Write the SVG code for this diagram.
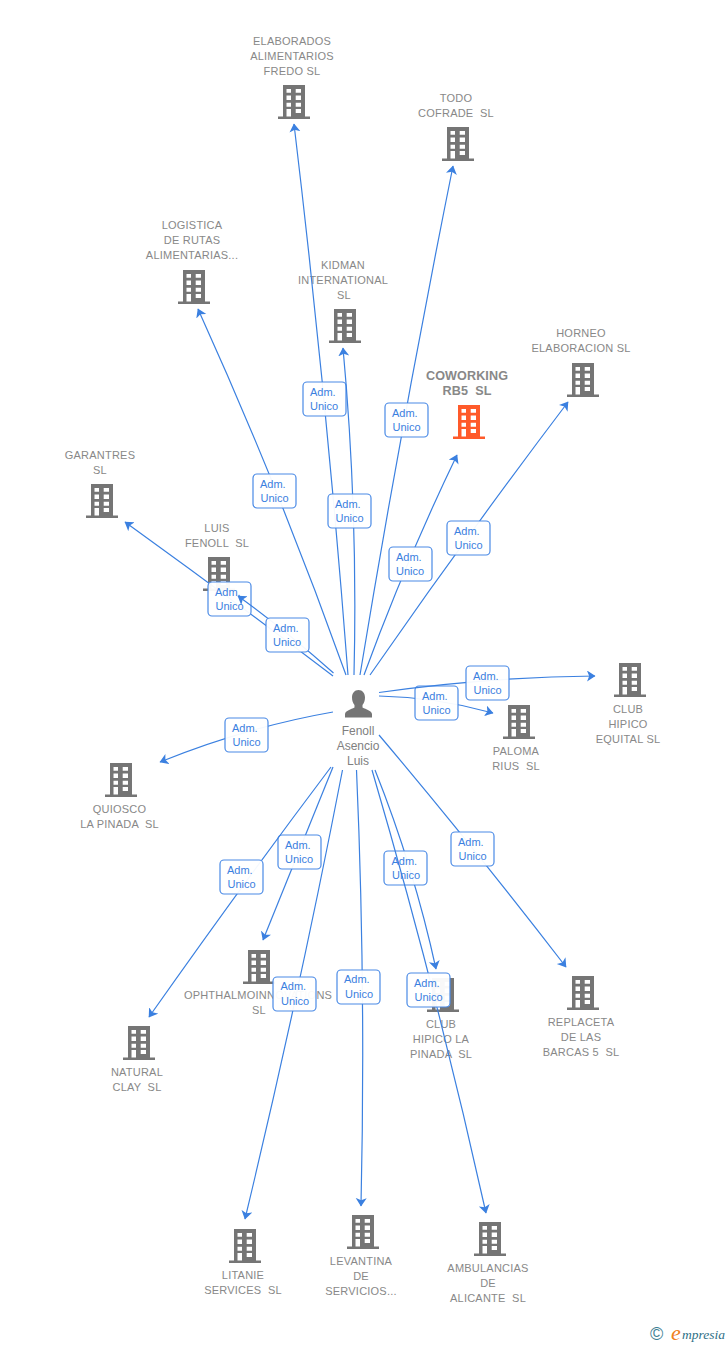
<svg xmlns="http://www.w3.org/2000/svg" width="728" height="1345" viewBox="0 0 728 1345">
<style>
.n{font:11px "Liberation Sans",Arial,sans-serif;letter-spacing:.22px;fill:#888;text-anchor:middle;white-space:pre}
.m{font:bold 12.6px "Liberation Sans",Arial,sans-serif;letter-spacing:.1px;fill:#888;text-anchor:middle;white-space:pre}
.p{font:12px "Liberation Sans",Arial,sans-serif;fill:#808080;text-anchor:middle}
.e{fill:none;stroke:#3b80e0;stroke-width:1.2;marker-end:url(#a)}
.b{fill:#fff;fill-opacity:.95;stroke:#4a8ae6;stroke-width:1.2}
.l{font:11px "Liberation Sans",Arial,sans-serif;fill:#3b80e0}
</style>
<defs>
<marker id="a" markerUnits="userSpaceOnUse" markerWidth="12" markerHeight="12" refX="8" refY="5.500" orient="auto"><path d="M0 0L8.500 5.500L0 11L2.200 5.500Z" fill="#3b80e0"/></marker>
<g id="bld"><path fill-rule="evenodd" d="M5 0H27V31.5H32V34H0V31.5H5ZM8.500 4V7.800H13V4ZM17.700 4V7.800H23V4ZM8.500 10.500V15H13V10.500ZM17.700 10.500V15H23V10.500ZM8.500 17.700V21.700H13V17.700ZM17.700 17.700V21.700H23V17.700ZM8.500 24V31.500H13V24ZM17.700 24V28H23V24Z"/></g>
</defs>
<rect width="728" height="1345" fill="#fff"/>
<g id="node-elaborados" fill="#757575"><text class="n" x="292" y="45">ELABORADOS</text><text class="n" x="292" y="60">ALIMENTARIOS</text><text class="n" x="292" y="75">FREDO SL</text><use href="#bld" x="278" y="85"/></g>
<g id="node-todo" fill="#757575"><text class="n" x="456" y="102">TODO</text><text class="n" x="456" y="117">COFRADE  SL</text><use href="#bld" x="442" y="127"/></g>
<g id="node-logistica" fill="#757575"><text class="n" x="192" y="229">LOGISTICA</text><text class="n" x="192" y="244">DE RUTAS</text><text class="n" x="192" y="259">ALIMENTARIAS...</text><use href="#bld" x="178" y="270"/></g>
<g id="node-kidman" fill="#757575"><text class="n" x="343" y="269">KIDMAN</text><text class="n" x="343" y="284">INTERNATIONAL</text><text class="n" x="344" y="299">SL</text><use href="#bld" x="329" y="309"/></g>
<g id="node-coworking" fill="#ff5a2a"><text class="m" x="467" y="380">COWORKING</text><text class="m" x="467" y="395">RB5  SL</text><use href="#bld" x="453" y="405"/></g>
<g id="node-horneo" fill="#757575"><text class="n" x="581" y="337">HORNEO</text><text class="n" x="581" y="352">ELABORACION SL</text><use href="#bld" x="567" y="363"/></g>
<g id="node-garantres" fill="#757575"><text class="n" x="100" y="459">GARANTRES</text><text class="n" x="100" y="474">SL</text><use href="#bld" x="86" y="484"/></g>
<g id="node-luis" fill="#757575"><text class="n" x="217" y="532">LUIS</text><text class="n" x="217" y="547">FENOLL  SL</text><use href="#bld" x="203" y="557"/></g>
<g id="node-equital" fill="#757575"><use href="#bld" x="614" y="663"/><text class="n" x="628" y="713">CLUB</text><text class="n" x="628" y="728">HIPICO</text><text class="n" x="628" y="743">EQUITAL SL</text></g>
<g id="node-paloma" fill="#757575"><use href="#bld" x="503" y="705"/><text class="n" x="516" y="755">PALOMA</text><text class="n" x="516" y="770">RIUS  SL</text></g>
<g id="node-quiosco" fill="#757575"><use href="#bld" x="105" y="763"/><text class="n" x="119.500" y="813">QUIOSCO</text><text class="n" x="119.500" y="828">LA PINADA  SL</text></g>
<g id="node-ophthalmoinn" fill="#757575"><use href="#bld" x="243" y="950"/><text class="n" x="258" y="999">OPHTHALMOINNOVATIONS</text><text class="n" x="259" y="1014">SL</text></g>
<g id="node-natural" fill="#757575"><use href="#bld" x="123" y="1026"/><text class="n" x="137" y="1076">NATURAL</text><text class="n" x="137" y="1091">CLAY  SL</text></g>
<g id="node-pinada" fill="#757575"><use href="#bld" x="427" y="978"/><text class="n" x="441" y="1028">CLUB</text><text class="n" x="441" y="1043">HIPICO LA</text><text class="n" x="441" y="1058">PINADA  SL</text></g>
<g id="node-replaceta" fill="#757575"><use href="#bld" x="567" y="976"/><text class="n" x="581" y="1026">REPLACETA</text><text class="n" x="581" y="1041">DE LAS</text><text class="n" x="581" y="1056">BARCAS 5  SL</text></g>
<g id="node-litanie" fill="#757575"><use href="#bld" x="229" y="1229"/><text class="n" x="243" y="1279">LITANIE</text><text class="n" x="243" y="1294">SERVICES  SL</text></g>
<g id="node-levantina" fill="#757575"><use href="#bld" x="347" y="1215"/><text class="n" x="361" y="1265">LEVANTINA</text><text class="n" x="361" y="1280">DE</text><text class="n" x="361" y="1295">SERVICIOS...</text></g>
<g id="node-ambulancias" fill="#757575"><use href="#bld" x="474" y="1222"/><text class="n" x="488" y="1272">AMBULANCIAS</text><text class="n" x="488" y="1287">DE</text><text class="n" x="488" y="1302">ALICANTE  SL</text></g>
<g id="node-person"><path fill="#757575" d="M358.500 690c4 0 6.500 3.300 6.500 7.500 0 3-1 5.500-2.500 7.500v2.500c3.500 2 9 3 9.500 6.500v3.500H345v-3.500c.5-3.500 6-4.500 9.500-6.500v-2.500c-1.500-2-2.500-4.500-2.500-7.500 0-4.200 2.500-7.500 6.500-7.500Z"/><text class="p" x="358" y="735">Fenoll</text><text class="p" x="358" y="750">Asencio</text><text class="p" x="358" y="765">Luis</text></g>
<g id="connectors">
<path class="e" d="M348 675Q327 400 294 124"/><rect class="b" x="303" y="382" width="43" height="34" rx="4"/><text class="l" x="310" y="395.500">Adm.</text><text class="l" x="310" y="410">Unico</text>
<path class="e" d="M354 675Q358 510 343 348"/><rect class="b" x="328" y="494" width="43" height="34" rx="4"/><text class="l" x="335" y="507.500">Adm.</text><text class="l" x="335.500" y="522">Unico</text>
<path class="e" d="M360 675Q402 420 453 166"/><rect class="b" x="385" y="403" width="43" height="34" rx="4"/><text class="l" x="392" y="416.500">Adm.</text><text class="l" x="392.500" y="431">Unico</text>
<path class="e" d="M346 675Q280 490 198 309"/><rect class="b" x="253" y="474" width="43" height="34" rx="4"/><text class="l" x="260" y="487.500">Adm.</text><text class="l" x="260.500" y="502">Unico</text>
<path class="e" d="M364 675Q405 563 457 455"/><rect class="b" x="389" y="547" width="43" height="34" rx="4"/><text class="l" x="396" y="560.500">Adm.</text><text class="l" x="396" y="575">Unico</text>
<path class="e" d="M370 675Q465 538 568 402"/><rect class="b" x="447" y="521" width="43" height="34" rx="4"/><text class="l" x="454" y="534.500">Adm.</text><text class="l" x="454.500" y="549">Unico</text>
<path class="e" d="M333 676Q229 597 125 522"/><rect class="b" x="208" y="582" width="43" height="34" rx="4"/><text class="l" x="215" y="595.500">Adm.</text><text class="l" x="215.500" y="610">Unico</text>
<path class="e" d="M333.500 673Q285 630 238 596"/><rect class="b" x="266" y="618" width="43" height="34" rx="4"/><text class="l" x="273" y="631.500">Adm.</text><text class="l" x="273" y="646">Unico</text>
<path class="e" d="M379 696Q436 697 493 713"/><rect class="b" x="415" y="686" width="43" height="34" rx="4"/><text class="l" x="422" y="699.500">Adm.</text><text class="l" x="422.500" y="714">Unico</text>
<path class="e" d="M379 692.500Q487 677 595 676"/><rect class="b" x="466" y="666" width="43" height="34" rx="4"/><text class="l" x="473" y="679.500">Adm.</text><text class="l" x="473.500" y="694">Unico</text>
<path class="e" d="M333 712Q247 727 160 762"/><rect class="b" x="225" y="718" width="43" height="34" rx="4"/><text class="l" x="232" y="731.500">Adm.</text><text class="l" x="232.500" y="746">Unico</text>
<path class="e" d="M333 767Q299 852 263 940"/><rect class="b" x="278" y="835" width="43" height="34" rx="4"/><text class="l" x="285" y="848.500">Adm.</text><text class="l" x="285" y="863">Unico</text>
<path class="e" d="M331 767Q242 885 149 1017"/><rect class="b" x="220" y="860" width="43" height="34" rx="4"/><text class="l" x="227" y="873.500">Adm.</text><text class="l" x="227.500" y="888">Unico</text>
<path class="e" d="M342.500 770Q300 990 245 1219"/><rect class="b" x="273" y="977" width="43" height="34" rx="4"/><text class="l" x="280.500" y="989.800">Adm.</text><text class="l" x="281" y="1004.500">Unico</text>
<path class="e" d="M356.500 770Q366 987 361 1206"/><rect class="b" x="337" y="970" width="43" height="34" rx="4"/><text class="l" x="344" y="983">Adm.</text><text class="l" x="345" y="998">Unico</text>
<path class="e" d="M375 770Q414 868 436 969"/><rect class="b" x="384" y="851" width="43" height="34" rx="4"/><text class="l" x="391.500" y="864.500">Adm.</text><text class="l" x="392" y="879">Unico</text>
<path class="e" d="M372 770Q436 988 486 1213"/><rect class="b" x="407" y="973" width="43" height="34" rx="4"/><text class="l" x="414" y="986.500">Adm.</text><text class="l" x="414.500" y="1001">Unico</text>
<path class="e" d="M379 735Q472 845 566 967"/><rect class="b" x="451" y="832" width="43" height="34" rx="4"/><text class="l" x="458" y="845.500">Adm.</text><text class="l" x="458.500" y="860">Unico</text>
</g>
<g id="logo">
<text x="650" y="1340" style="font:18px 'Liberation Sans',sans-serif;fill:#3f7f94">©</text>
<text x="671" y="1340" style="font:italic 22px 'Liberation Serif',serif;fill:#f08020">e</text>
<text x="682" y="1339" style="font:italic 13.500px 'Liberation Serif',serif;fill:#2f6f86">mpresia</text>
</g>
</svg>
